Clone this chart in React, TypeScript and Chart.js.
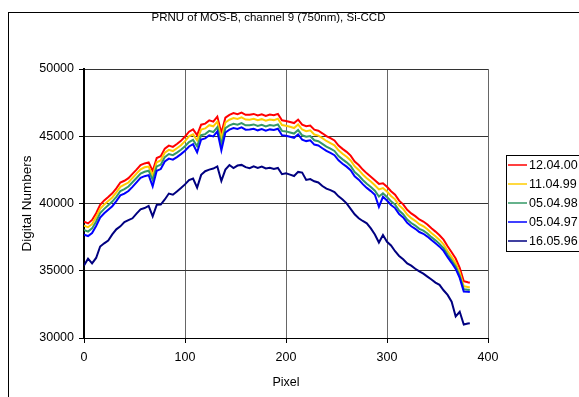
import React, { useEffect, useRef } from "react";
import { Chart, registerables } from "chart.js";

Chart.register(...registerables);

const chartTitle = "PRNU of MOS-B, channel 9 (750nm), Si-CCD";
const xAxisTitle = "Pixel";
const yAxisTitle = "Digital Numbers";
const xTickValues = [0, 100, 200, 300, 400];
const yTickValues = [30000, 35000, 40000, 45000, 50000];

const pixels = [
  0, 4, 8, 12, 16, 20, 24, 28, 32, 36, 40, 44, 48, 52, 56, 60, 64, 68, 72, 76,
  80, 84, 88, 92, 96, 100, 104, 108, 112, 116, 120, 124, 128, 132, 136, 140, 144, 148, 152, 156,
  160, 164, 168, 172, 176, 180, 184, 188, 192, 196, 200, 204, 208, 212, 216, 220, 224, 228, 232, 236,
  240, 244, 248, 252, 256, 260, 264, 268, 272, 276, 280, 284, 288, 292, 296, 300, 304, 308, 312, 316,
  320, 324, 328, 332, 336, 340, 344, 348, 352, 356, 360, 364, 368, 372, 376, 380, 382,
];

const s120400 = [
  38650, 38520, 38780, 39280, 39900, 40230, 40480, 40760, 41120, 41560, 41690, 41880, 42200, 42520, 42860, 42980, 43060, 42420, 43380, 43510,
  44080, 44300, 44210, 44420, 44660, 44980, 45340, 45510, 45080, 45860, 45940, 46180, 46090, 46460, 45240, 46380, 46590, 46720, 46640, 46760,
  46590, 46600, 46660, 46540, 46630, 46510, 46610, 46560, 46660, 46190, 46140, 46060, 45980, 46240, 45860, 45740, 45800, 45490, 45410, 45220,
  45010, 44860, 44690, 44310, 44060, 43840, 43560, 43120, 42860, 42520, 42240, 41990, 41720, 41460, 41510, 41240, 40910, 40660, 40210, 39940,
  39530, 39260, 39060, 38810, 38660, 38440, 38160, 37910, 37640, 37310, 36820, 36380, 35910, 35220, 34220, 34140, 34110,
];

const s110499 = [
  38350, 38240, 38470, 38990, 39610, 39920, 40190, 40450, 40830, 41240, 41400, 41560, 41900, 42220, 42540, 42690, 42750, 42090, 43070, 43200,
  43770, 43990, 43900, 44110, 44330, 44640, 44990, 45140, 44700, 45500, 45580, 45820, 45740, 46090, 44850, 46020, 46230, 46350, 46290, 46400,
  46240, 46230, 46300, 46190, 46270, 46150, 46240, 46200, 46300, 45830, 45780, 45700, 45610, 45870, 45500, 45380, 45440, 45130, 45050, 44860,
  44650, 44490, 44330, 43950, 43700, 43480, 43200, 42760, 42500, 42160, 41880, 41630, 41350, 41050, 41150, 40890, 40560, 40310, 39860, 39590,
  39180, 38910, 38710, 38460, 38310, 38090, 37810, 37560, 37290, 36960, 36470, 36030, 35560, 34870, 33850, 33790, 33760,
];

const s050498 = [
  38030, 37910, 38150, 38660, 39290, 39600, 39870, 40140, 40500, 40930, 41070, 41260, 41580, 41900, 42230, 42360, 42440, 41760, 42760, 42890,
  43450, 43680, 43590, 43780, 44000, 44260, 44570, 44730, 44260, 45080, 45160, 45400, 45310, 45680, 44400, 45600, 45810, 45930, 45860, 45980,
  45810, 45820, 45880, 45760, 45850, 45730, 45830, 45780, 45880, 45400, 45360, 45280, 45200, 45460, 45070, 44960, 45020, 44700, 44630, 44430,
  44230, 44080, 43910, 43530, 43280, 43060, 42790, 42340, 42080, 41750, 41470, 41220, 40950, 40520, 40760, 40490, 40160, 39920, 39470, 39210,
  38810, 38550, 38360, 38120, 37980, 37770, 37500, 37260, 37000, 36680, 36200, 35770, 35310, 34630, 33620, 33590, 33570,
];

const s050497 = [
  37680, 37580, 37800, 38330, 38960, 39270, 39530, 39800, 40180, 40600, 40730, 40930, 41240, 41570, 41900, 42030, 42110, 41280, 42430, 42560,
  43120, 43340, 43260, 43450, 43670, 43920, 44240, 44410, 43800, 44760, 44840, 45070, 44990, 45360, 43950, 45280, 45490, 45610, 45540, 45660,
  45490, 45500, 45560, 45440, 45530, 45410, 45510, 45460, 45560, 45080, 45040, 44960, 44880, 45140, 44750, 44640, 44700, 44380, 44310, 44110,
  43910, 43760, 43590, 43210, 42960, 42740, 42470, 42020, 41770, 41440, 41160, 40920, 40650, 39750, 40500, 40220, 39890, 39660, 39210, 38960,
  38560, 38310, 38120, 37880, 37750, 37540, 37280, 37040, 36790, 36480, 36010, 35590, 35140, 34470, 33460, 33440, 33420,
];

const s160596 = [
  35400, 35900, 35550, 35950, 36800, 37040, 37250, 37700, 38080, 38300, 38620, 38760, 38900, 39250, 39560, 39660, 39820, 39050, 39900, 39920,
  40300, 40740, 40650, 40900, 41150, 41420, 41740, 41860, 41180, 42130, 42400, 42520, 42600, 42760, 41680, 42520, 42860, 42630, 42820, 42870,
  42700, 42620, 42760, 42650, 42740, 42600, 42650, 42560, 42640, 42180, 42250, 42150, 42040, 42350, 42300, 41750, 41820, 41650, 41560, 41300,
  41100, 40990, 40850, 40530, 40300, 40010, 39600, 39200, 38900, 38700, 38530, 38150, 37700, 37100, 37650, 37150, 36880, 36450, 36100, 35850,
  35550, 35380, 35150, 34950, 34780, 34560, 34350, 34120, 33950, 33550, 33200, 32700, 31600, 31950, 31000, 31080, 31100,
];

const seriesLabels = ["12.04.00", "11.04.99", "05.04.98", "05.04.97", "16.05.96"];
const seriesValues = [s120400, s110499, s050498, s050497, s160596];
const seriesColors = ["#FF0000", "#FFCC00", "#339966", "#0000FF", "#000080"];

const FONT = '"Liberation Sans", Arial, sans-serif';

const decorPlugin = {
  id: "decor",
  beforeDraw(chart: any) {
    const ctx = chart.ctx;
    ctx.save();
    ctx.fillStyle = "#FFFFFF";
    ctx.fillRect(0, 0, chart.width, chart.height);
    ctx.strokeStyle = "#000000";
    ctx.lineWidth = 1;
    ctx.strokeRect(8.5, 12.5, 900, 900);
    ctx.restore();
  },
  afterDraw(chart: any) {
    const ctx = chart.ctx;
    ctx.save();
    // title
    ctx.fillStyle = "#000000";
    ctx.font = `11.5px ${FONT}`;
    ctx.textAlign = "center";
    ctx.textBaseline = "middle";
    ctx.fillText(chartTitle, 268.5, 17.5);
    // legend
    ctx.strokeStyle = "#000000";
    ctx.lineWidth = 1;
    ctx.strokeRect(506.5, 155.5, 200, 96);
    ctx.font = `12.5px ${FONT}`;
    ctx.textAlign = "left";
    const ds = chart.data.datasets;
    for (let i = 0; i < ds.length; i++) {
      const y = 165 + i * 19;
      ctx.strokeStyle = ds[i].borderColor;
      ctx.lineWidth = 1.5;
      ctx.beginPath();
      ctx.moveTo(508, y);
      ctx.lineTo(527, y);
      ctx.stroke();
      ctx.fillStyle = "#000000";
      ctx.fillText(ds[i].label, 529, y + 0.5);
    }
    ctx.restore();
  },
};

export default function App() {
  const canvasRef = useRef<HTMLCanvasElement | null>(null);

  useEffect(() => {
    const canvas = canvasRef.current;
    if (!canvas) return;
    const datasets = seriesLabels.map((label, i) => ({
      label,
      data: pixels.map((p, j) => ({ x: p, y: seriesValues[i][j] })),
      borderColor: seriesColors[i],
      backgroundColor: seriesColors[i],
      borderWidth: 2,
      pointRadius: 0,
      tension: 0,
      fill: false,
      order: seriesLabels.length - i,
    }));
    const chart = new Chart(canvas, {
      type: "line",
      data: { datasets },
      plugins: [decorPlugin],
      options: {
        animation: false,
        responsive: false,
        devicePixelRatio: 1,
        layout: { padding: { left: 8, top: 69, right: 91, bottom: 0 } },
        plugins: {
          legend: { display: false },
          tooltip: { enabled: false },
          title: { display: false },
        },
        scales: {
          x: {
            type: "linear",
            min: xTickValues[0],
            max: xTickValues[xTickValues.length - 1],
            afterBuildTicks: (s: any) => {
              s.ticks = xTickValues.map((v) => ({ value: v }));
            },
            afterFit: (s: any) => {
              s.height = 59;
            },
            ticks: {
              color: "#000000",
              font: { family: FONT, size: 12.5 },
              padding: 7,
              maxRotation: 0,
              callback: (v: any) => String(v),
            },
            grid: { color: "#666666", lineWidth: 1, tickLength: 5, tickColor: "#000000" },
            border: { display: true, color: "#000000", width: 1 },
            title: {
              display: true,
              text: xAxisTitle,
              color: "#000000",
              font: { family: FONT, size: 12.5 },
              padding: { top: 0, bottom: 7 },
            },
          },
          y: {
            type: "linear",
            min: yTickValues[0],
            max: yTickValues[yTickValues.length - 1],
            afterBuildTicks: (s: any) => {
              s.ticks = yTickValues.map((v) => ({ value: v }));
            },
            afterFit: (s: any) => {
              s.width = 76;
            },
            ticks: {
              color: "#000000",
              font: { family: FONT, size: 12.5 },
              padding: 5,
              callback: (v: any) => String(v),
            },
            grid: { color: "#333333", lineWidth: 1, tickLength: 5, tickColor: "#000000" },
            border: { display: true, color: "#000000", width: 2 },
            title: {
              display: true,
              text: yAxisTitle,
              color: "#000000",
              font: { family: FONT, size: 13.5 },
              padding: { top: 11, bottom: 0 },
            },
          },
        },
      },
    });
    return () => chart.destroy();
  }, []);

  return (
    <div style={{ position: "absolute", left: 0, top: 0, width: 579, height: 397 }}>
      <canvas ref={canvasRef} width={579} height={397} style={{ display: "block" }} />
    </div>
  );
}
